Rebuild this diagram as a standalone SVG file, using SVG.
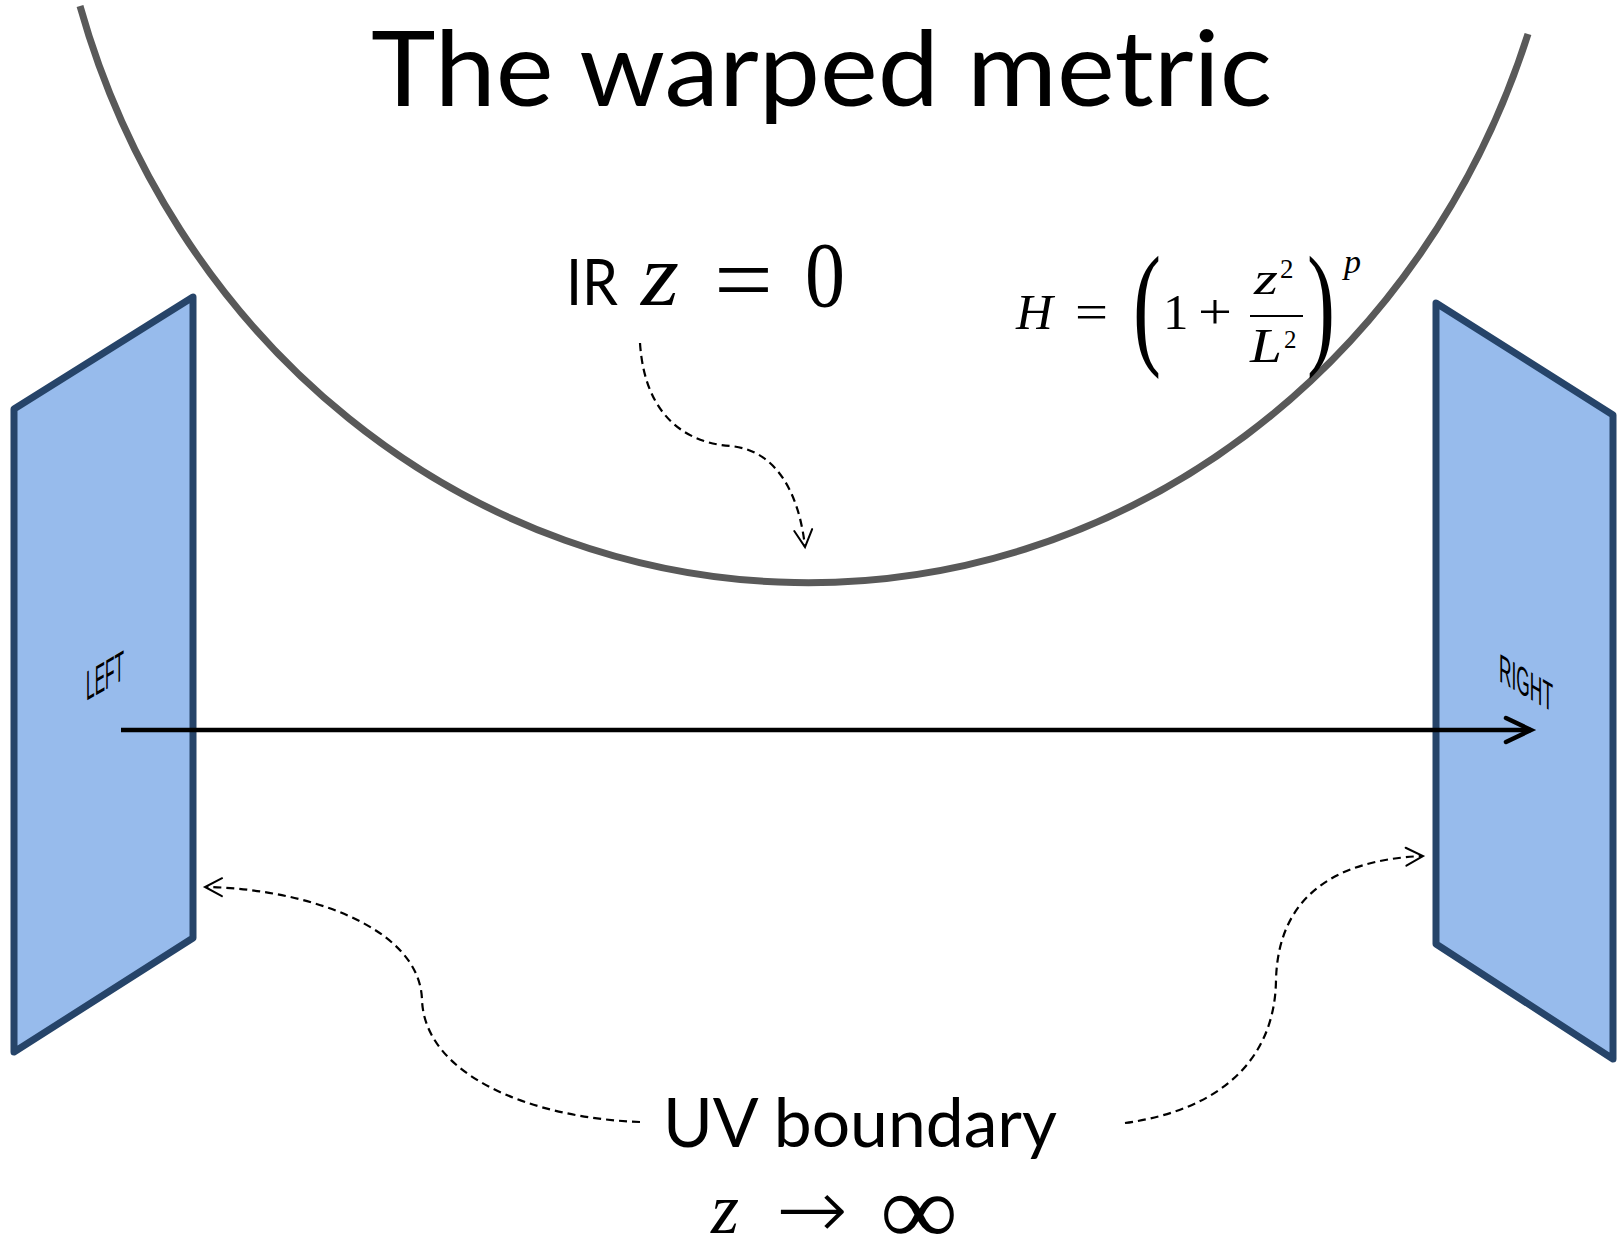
<svg xmlns="http://www.w3.org/2000/svg" width="1617" height="1239" viewBox="0 0 1617 1239">
<defs>
<style>
.sans{font-family:Lato,"Open Sans","Liberation Sans",sans-serif;fill:#000}
.math{font-family:"Liberation Serif","DejaVu Serif",serif;fill:#000}
.arr{font-family:"DejaVu Sans","Liberation Serif",sans-serif;font-weight:200;fill:#000}
.mi{font-style:italic}
.panel{fill:#97BBEC;stroke:#264469;stroke-width:7;stroke-linejoin:round}
.lbl{font-family:"Liberation Sans",Arial,sans-serif;fill:#000}
.dash{fill:none;stroke:#000;stroke-width:2.2;stroke-dasharray:8,5}
</style>
<marker id="ah" markerUnits="userSpaceOnUse" markerWidth="40" markerHeight="40" viewBox="-30 -20 40 40" refX="0" refY="0" orient="auto">
<path d="M-17,-9 L0,0 L-17,9" fill="none" stroke="#000" stroke-width="2" stroke-dasharray="none" stroke-linecap="round" stroke-linejoin="miter"/>
</marker>
<marker id="ahb" markerUnits="userSpaceOnUse" markerWidth="50" markerHeight="50" viewBox="-40 -25 50 50" refX="0" refY="0" orient="auto">
<path d="M-25,-12 L0,0 L-25,12" fill="none" stroke="#000" stroke-width="4.5" stroke-linecap="round" stroke-linejoin="miter"/>
</marker>
</defs>
<rect width="1617" height="1239" fill="#fff"/>

<path id="metric-curve" d="M80,6 A760,808 0 0 0 1528,34" fill="none" stroke="#595959" stroke-width="7"/>

<text id="title" class="sans" x="371" y="106" font-size="104" textLength="901" lengthAdjust="spacingAndGlyphs">The warped metric</text>

<g id="left-panel">
<polygon class="panel" points="193,297 14,409 14,1052 193,938"/>
<text class="lbl" transform="matrix(1,-0.58,0,1,86,701)" font-size="42" textLength="38" lengthAdjust="spacingAndGlyphs">LEFT</text>
</g>
<g id="right-panel">
<polygon class="panel" points="1436,303 1613,415 1613,1059 1436,944"/>
<text class="lbl" transform="matrix(1,0.58,0,1,1499,681)" font-size="40" textLength="54" lengthAdjust="spacingAndGlyphs">RIGHT</text>
</g>

<g id="ir-label">
<text class="sans" x="566" y="305" font-size="64" textLength="52" lengthAdjust="spacingAndGlyphs">IR</text>
<text class="math mi" x="641" y="305" font-size="89" textLength="38" lengthAdjust="spacingAndGlyphs">z</text>
<text class="math" x="714" y="312" font-size="95" textLength="59" lengthAdjust="spacingAndGlyphs">=</text>
<text class="math" x="805" y="306" font-size="93" textLength="40" lengthAdjust="spacingAndGlyphs">0</text>
</g>

<g id="formula">
<text class="math mi" x="1016" y="329" font-size="51">H</text>
<text class="math" x="1075" y="329" font-size="51" textLength="33" lengthAdjust="spacingAndGlyphs">=</text>
<text class="math" x="1133" y="350" font-size="135" textLength="28" lengthAdjust="spacingAndGlyphs">(</text>
<text class="math" x="1163" y="329" font-size="51">1</text>
<text class="math" x="1198" y="329" font-size="51" textLength="34" lengthAdjust="spacingAndGlyphs">+</text>
<text class="math mi" x="1254" y="294" font-size="46" textLength="24" lengthAdjust="spacingAndGlyphs">z</text>
<text class="math" x="1280" y="278" font-size="27">2</text>
<line x1="1250" y1="316" x2="1303" y2="316" stroke="#000" stroke-width="2.2"/>
<text class="math mi" x="1250" y="362" font-size="48" textLength="32" lengthAdjust="spacingAndGlyphs">L</text>
<text class="math" x="1284" y="348" font-size="25">2</text>
<text class="math" x="1307" y="350" font-size="135" textLength="28" lengthAdjust="spacingAndGlyphs">)</text>
<text class="math mi" x="1344" y="273" font-size="34">p</text>
</g>

<g id="uv-label">
<text class="sans" x="663" y="1147" font-size="68" textLength="394" lengthAdjust="spacingAndGlyphs">UV boundary</text>
<text class="math mi" x="711" y="1233" font-size="72" textLength="28" lengthAdjust="spacingAndGlyphs">z</text>
<text class="arr" x="776" y="1238" font-size="84" textLength="72" lengthAdjust="spacingAndGlyphs">→</text>
<text class="math" x="880" y="1244" font-size="100" textLength="78" lengthAdjust="spacingAndGlyphs">∞</text>
</g>

<g id="connectors">
<line x1="121" y1="730" x2="1531" y2="730" stroke="#000" stroke-width="4.5" marker-end="url(#ahb)"/>
<path class="dash" d="M640,343 C645,420 690,443 730,446 C780,450 800,500 805,547" marker-end="url(#ah)"/>
<path class="dash" d="M640,1122 C530,1118 425,1075 422,1000 C420,925 300,888 205,887" marker-end="url(#ah)"/>
<path class="dash" d="M1125,1123 C1220,1110 1275,1060 1276,980 C1278,900 1330,860 1423,856" marker-end="url(#ah)"/>
</g>
</svg>
